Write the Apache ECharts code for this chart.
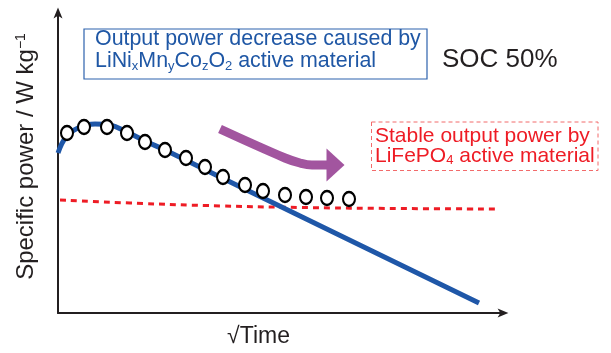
<!DOCTYPE html>
<html style="height: 100%">
<head>
<meta charset="utf-8">
<script src="https://cdn.jsdelivr.net/npm/echarts@6/dist/echarts.min.js"></script>
</head>
<body style="height: 100%; margin: 0; background: #fff">
<div id="container" style="width: 611px; height: 353px;"></div>
<script type="text/javascript">
// 数据 (任意单位, x = √Time, y = Specific power)
var nmcLine = [[0, 160], [8, 176], [20, 185], [37, 189], [52, 188], [69, 181], [87, 172], [107, 163], [162, 136], [421, 10]];
var measured = [[9, 180], [26, 186], [49, 186], [69, 180], [87, 171], [107, 163], [128, 155], [147, 146], [165, 136],
	[187, 128], [205, 122], [227, 118], [248, 116], [269, 115], [291, 114]];
var lfpLine = [[2, 113], [72, 110], [147, 107.5], [242, 105.5], [342, 104.5], [439, 104]];
var arrowShaft = [[162, 184], [227, 155], [242, 150], [254, 148], [270, 148]];
var arrowHead = [[277.5, 148]];
var xMax = 445, yMax = 300;

var font = 'Liberation Sans, Arial, sans-serif';
var dom = document.getElementById("container");
var myChart = echarts.init(dom, null, { renderer: 'canvas' });
var axisArrow = 'path://M5,0 L10,12 L5,9 L0,12 Z';

var option = {
	animation : false,
	grid : {
		left : 58,
		right : 108,
		top : 13,
		bottom : 40
	},
	xAxis : {
		type : 'value',
		min : 0,
		max : xMax,
		name : '√Time',
		nameLocation : 'middle',
		nameGap : 12,
		nameTextStyle : {
			fontFamily : font,
			fontSize : 23,
			color : '#231f20',
			padding : [0, 44, 0, 0]
		},
		axisLine : {
			show : true,
			symbol : ['none', axisArrow],
			symbolSize : [9, 12],
			lineStyle : { color : '#231f20', width : 2 }
		},
		axisTick : { show : false },
		axisLabel : { show : false },
		splitLine : { show : false }
	},
	yAxis : {
		type : 'value',
		min : 0,
		max : yMax,
		name : 'Specific power / W kg{sup|−1}',
		nameLocation : 'middle',
		nameRotate : 90,
		nameGap : 20,
		nameTextStyle : {
			fontFamily : font,
			fontSize : 24,
			color : '#231f20',
			padding : [0, 0, 0, 13],
			rich : {
				sup : { fontFamily : font, fontSize : 14, color : '#231f20', verticalAlign : 'top', lineHeight : 14 }
			}
		},
		axisLine : {
			show : true,
			symbol : ['none', axisArrow],
			symbolSize : [9, 12],
			lineStyle : { color : '#231f20', width : 2 }
		},
		axisTick : { show : false },
		axisLabel : { show : false },
		splitLine : { show : false }
	},
	series : [ {
		name : 'LiFePO4',
		type : 'line',
		smooth : true,
		symbol : 'none',
		z : 1,
		lineStyle : { color : '#ee1c25', width : 3, type : [6, 5] },
		data : lfpLine
	}, {
		name : 'NMC',
		type : 'line',
		smooth : 0.4,
		symbol : 'none',
		z : 2,
		lineStyle : { color : '#1f57a8', width : 5 },
		data : nmcLine
	}, {
		name : 'measured',
		type : 'scatter',
		symbol : 'circle',
		symbolSize : [12, 14],
		z : 3,
		itemStyle : { color : '#fff', borderColor : '#000', borderWidth : 2.2, opacity : 1 },
		data : measured
	}, {
		name : 'trend',
		type : 'line',
		smooth : 0.4,
		symbol : 'none',
		z : 4,
		lineStyle : { color : '#a2559f', width : 9, cap : 'butt' },
		data : arrowShaft
	}, {
		name : 'trendHead',
		type : 'scatter',
		symbol : 'triangle',
		symbolSize : [33, 18],
		symbolRotate : -90,
		z : 4,
		itemStyle : { color : '#a2559f', opacity : 1 },
		data : arrowHead
	} ],
	graphic : [ {
		type : 'rect',
		shape : { x : 84, y : 29, width : 343, height : 50 },
		style : { fill : 'none', stroke : '#2d62ad', lineWidth : 1.2 }
	}, {
		type : 'text',
		x : 95,
		y : 28.5,
		style : {
			text : 'Output power decrease caused by\nLiNi{sub|x}Mn{sub|y}Co{sub|z}O{sub|2} active material',
			fontFamily : font,
			fontSize : 21.4,
			lineHeight : 22,
			fill : '#1f57a5',
			verticalAlign : 'top',
			rich : {
				sub : { fontFamily : font, fontSize : 13, lineHeight : 13, fill : '#1f57a5', verticalAlign : 'bottom' }
			}
		}
	}, {
		type : 'text',
		x : 442,
		y : 60,
		style : {
			text : 'SOC 50%',
			fontFamily : font,
			fontSize : 26,
			fill : '#231f20',
			verticalAlign : 'middle'
		}
	}, {
		type : 'rect',
		shape : { x : 371.5, y : 122, width : 226.5, height : 48.5 },
		style : { fill : 'none', stroke : '#f26b6b', lineWidth : 1, lineDash : [4, 3] }
	}, {
		type : 'text',
		x : 375,
		y : 126.5,
		style : {
			text : 'Stable output power by\nLiFePO{sub|4} active material',
			fontFamily : font,
			fontSize : 21,
			lineHeight : 20,
			fill : '#ee1c25',
			verticalAlign : 'top',
			rich : {
				sub : { fontFamily : font, fontSize : 13, lineHeight : 13, fill : '#ee1c25', verticalAlign : 'bottom' }
			}
		}
	} ]
};

if (option && typeof option === "object") {
	myChart.setOption(option, true);
}
</script>
</body>
</html>
